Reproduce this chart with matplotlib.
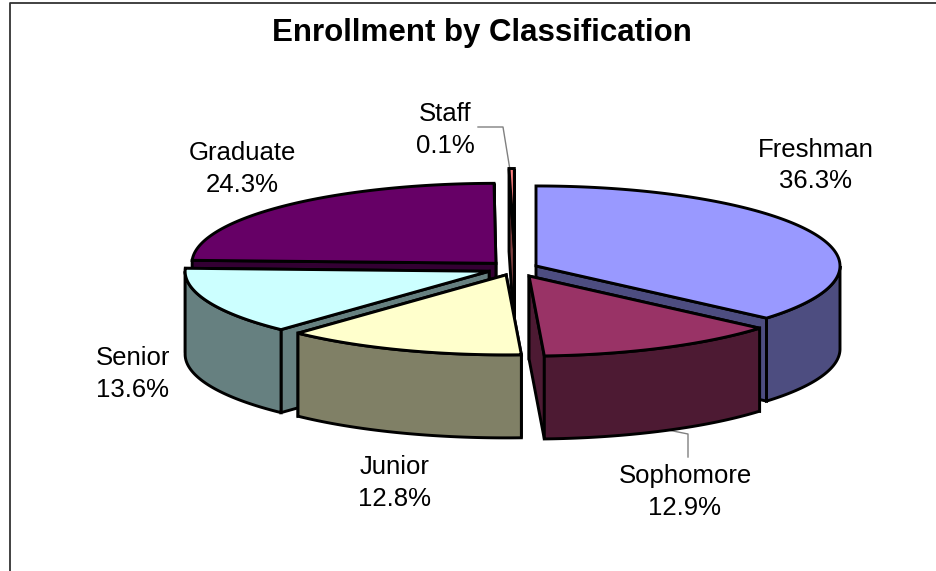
import numpy as np
import matplotlib
matplotlib.use("Agg")
import matplotlib.pyplot as plt
from matplotlib.patches import Polygon

categories = ["Freshman", "Sophomore", "Junior", "Senior", "Graduate", "Staff"]
values = [36.3, 12.9, 12.8, 13.6, 24.3, 0.1]
explode = [0.076, 0.105, 0.085, 0.092, 0.09, 0.25]
top_colors = ["#9999FF", "#993366", "#FFFFCC", "#CCFFFF", "#660066", "#FF8080"]
side_colors = ["#4D4D80", "#4D1A33", "#808066", "#668080", "#330033", "#804040"]

# back to front
draw_order = ["Graduate", "Staff", "Freshman", "Senior", "Junior", "Sophomore"]
label_pos = {
    "Freshman": (815.5, 165.5),
    "Sophomore": (685, 492),
    "Junior": (395, 483),
    "Senior": (133, 374),
    "Graduate": (242, 169),
    "Staff": (445, 130),
}

cx, cy = 515, 268.5
rx, ry = 304, 80
depth = 83
min_sweep = 1.0  # the tiny slice would vanish under its outline


def pt(center, theta, rad=1.0):
    # theta in degrees, clockwise from 12 o'clock
    t = np.radians(theta)
    return center[0] + rad * rx * np.sin(t), center[1] - rad * ry * np.cos(t)


def face(ax, pts, color, z):
    ax.add_patch(Polygon(pts, closed=True, facecolor=color, edgecolor="black",
                         linewidth=2.1, joinstyle="miter", zorder=z))


fig = plt.figure(figsize=(9.36, 5.71), dpi=100)
ax = fig.add_axes([0, 0, 1, 1])
ax.set_xlim(0, 936)
ax.set_ylim(571, 0)
ax.axis("off")
plt.rcParams["font.family"] = ["Liberation Sans", "DejaVu Sans"]

# chart frame
ax.plot([9.5, 9.5, 936], [571, 3, 3], color="#333333", lw=1.3, zorder=1)

starts = np.cumsum([0] + values[:-1]) * 3.6
z = 2
for name in draw_order:
    i = categories.index(name)
    a0 = starts[i]
    sweep = max(values[i] * 3.6, min_sweep)
    a1 = a0 + sweep
    if a1 > 360:
        a0, a1 = 360 - sweep, 360
    mid = (a0 + a1) / 2
    c = pt((cx, cy), mid, explode[i])
    arc = np.array([pt(c, a) for a in np.linspace(a0, a1, 120)])

    # cut faces first, the one further back goes under the other
    for a in sorted((a0, a1), key=lambda v: pt(c, v)[1]):
        e = pt(c, a)
        face(ax, [c, e, (e[0], e[1] + depth), (c[0], c[1] + depth)], side_colors[i], z)
    # outer wall, only the part turned to the viewer
    f0, f1 = max(a0, 90), min(a1, 270)
    if f1 > f0:
        wall = np.array([pt(c, a) for a in np.linspace(f0, f1, 120)])
        low = wall[::-1] + [0, depth]
        face(ax, np.vstack([wall, low]), side_colors[i], z)
    face(ax, np.vstack([[c], arc]), top_colors[i], z)
    z += 1

# leader lines
ax.plot([510, 503, 478], [170, 127, 127], color="#808080", lw=1, zorder=1)
ax.plot([668, 688, 688], [430, 434, 457], color="#808080", lw=1, zorder=1)

for name, val in zip(categories, values):
    x, y = label_pos[name]
    ax.text(x, y, f"{name}\n{val:.1f}%", ha="center", va="center", fontsize=18.5,
            linespacing=1.42, color="black", zorder=20)

ax.text(482, 33, "Enrollment by Classification", ha="center", va="center",
        fontsize=22.5, fontweight="bold", color="black", zorder=20)

fig.savefig("out.png", dpi=100, facecolor="white")
